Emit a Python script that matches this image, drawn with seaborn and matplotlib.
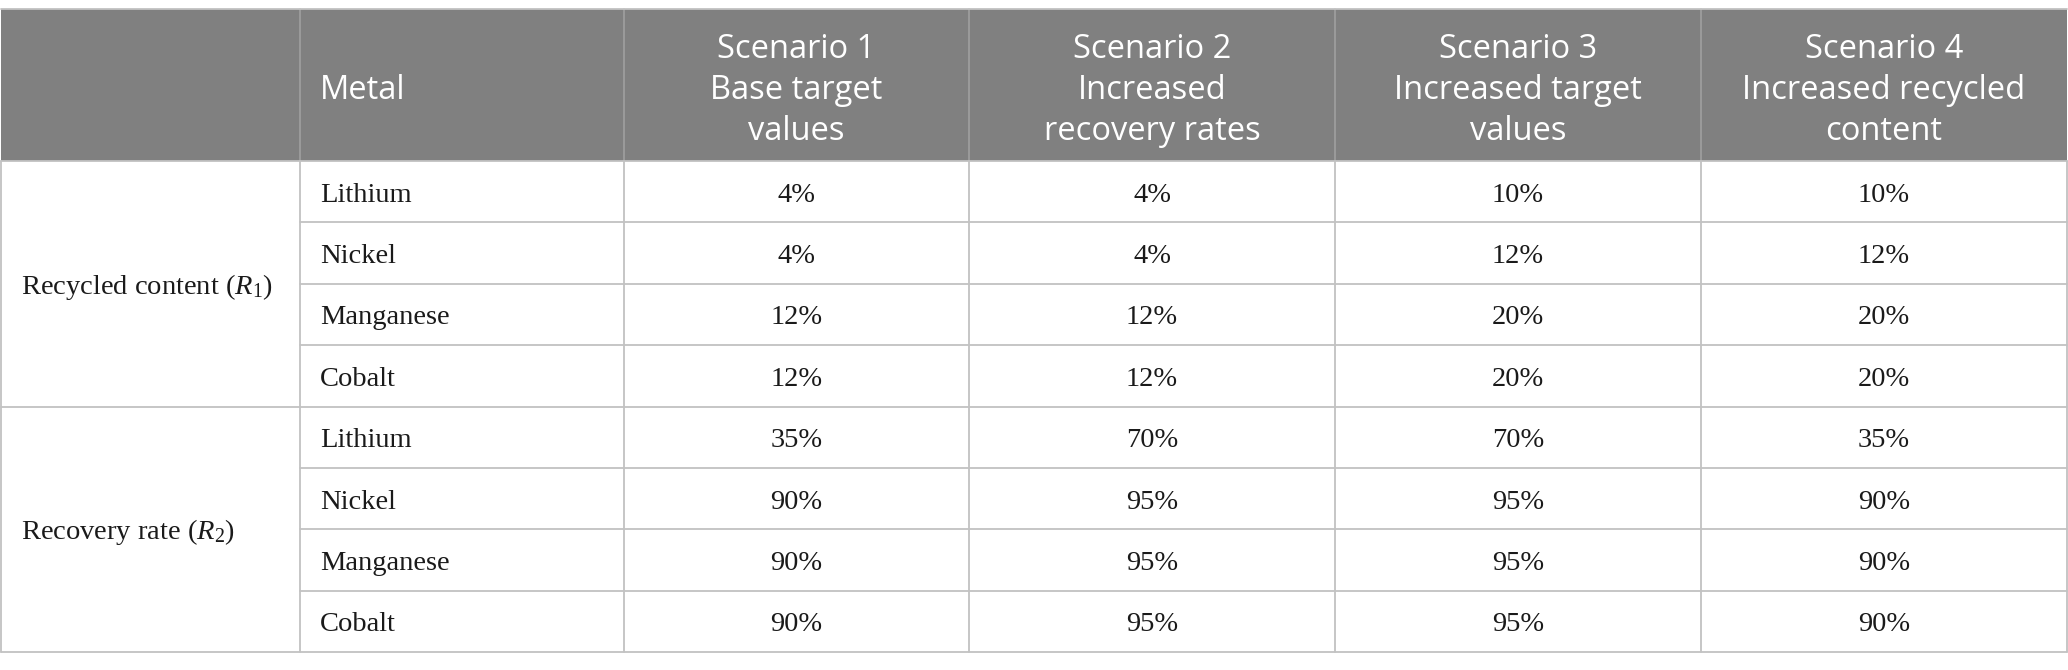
import matplotlib
matplotlib.use("Agg")
import matplotlib.pyplot as plt
import seaborn as sns
from matplotlib.patches import Rectangle
from matplotlib.lines import Line2D

# ---------------- data ----------------
group_labels = ["Recycled content ($R_1$)", "Recovery rate ($R_2$)"]
metals = ["Lithium", "Nickel", "Manganese", "Cobalt"]
header_first = "Metal"
scenario_headers = [
    ["Scenario 1", "Base target", "values"],
    ["Scenario 2", "Increased", "recovery rates"],
    ["Scenario 3", "Increased target", "values"],
    ["Scenario 4", "Increased recycled", "content"],
]
scenario1 = [4, 4, 12, 12, 35, 90, 90, 90]
scenario2 = [4, 4, 12, 12, 70, 95, 95, 95]
scenario3 = [10, 12, 20, 20, 70, 95, 95, 95]
scenario4 = [10, 12, 20, 20, 35, 90, 90, 90]
scenarios = [scenario1, scenario2, scenario3, scenario4]

# ---------------- style ----------------
sns.set_theme(style="white")
plt.rcParams["mathtext.fontset"] = "custom"
plt.rcParams["mathtext.rm"] = "Liberation Serif"
plt.rcParams["mathtext.it"] = "Liberation Serif:italic"

W, H = 2068, 670
fig = plt.figure(figsize=(W / 100, H / 100), dpi=100)
ax = fig.add_axes([0, 0, 1, 1])
ax.set_xlim(0, W)
ax.set_ylim(H, 0)
ax.axis("off")

header_bg = "#808080"
line_col = "#c2c2c2"
head_sep = "#a3a3a3"
text_col = "#1a1a1a"
serif = "Liberation Serif"
sans = "Open Sans"
body_fs = 20.5
head_fs = 23.5

col_edges = [1, 300, 624, 969, 1335, 1701, 2067]
top, head_bot, bottom = 9, 161, 652
n_rows = len(metals) * len(group_labels)
row_h = (bottom - head_bot) / n_rows

# header
ax.add_patch(Rectangle((col_edges[0], top), col_edges[-1] - col_edges[0],
                       head_bot - top, facecolor=header_bg, edgecolor="none"))
for x in col_edges[1:-1]:
    ax.add_line(Line2D([x, x], [top, head_bot], color=head_sep, lw=1.1))
ax.add_line(Line2D([col_edges[0], col_edges[-1]], [top, top], color=line_col, lw=1.3))

baselines = [58, 99, 140]
pad = 20
ax.text(col_edges[1] + pad, baselines[1], header_first, color="white",
        fontsize=head_fs, family=sans, ha="left", va="baseline")
for j, lines in enumerate(scenario_headers):
    cx = (col_edges[j + 2] + col_edges[j + 3]) / 2
    for k, t in enumerate(lines):
        ax.text(cx, baselines[k], t, color="white", fontsize=head_fs,
                family=sans, ha="center", va="baseline")

# body grid lines
for i in range(n_rows + 1):
    y = head_bot + i * row_h
    if i % len(metals) == 0:
        x0 = col_edges[0]
    else:
        x0 = col_edges[1]
    ax.add_line(Line2D([x0, col_edges[-1]], [y, y], color=line_col, lw=1.3))
for x in col_edges:
    ax.add_line(Line2D([x, x], [head_bot, bottom], color=line_col, lw=1.3))

# body text
for g, glabel in enumerate(group_labels):
    gy = head_bot + (g * len(metals) + len(metals) / 2) * row_h
    ax.text(col_edges[0] + 20, gy + 10, glabel, color=text_col, fontsize=body_fs,
            family=serif, ha="left", va="baseline")
    for m, metal in enumerate(metals):
        r = g * len(metals) + m
        cy = head_bot + (r + 0.5) * row_h
        ax.text(col_edges[1] + pad, cy + 10, metal, color=text_col,
                fontsize=body_fs, family=serif, ha="left", va="baseline")
        for j, vals in enumerate(scenarios):
            cx = (col_edges[j + 2] + col_edges[j + 3]) / 2
            ax.text(cx, cy + 10, f"{vals[r]}%", color=text_col,
                    fontsize=body_fs, family=serif, ha="center", va="baseline")

fig.savefig("out.png", dpi=100, facecolor="white")
